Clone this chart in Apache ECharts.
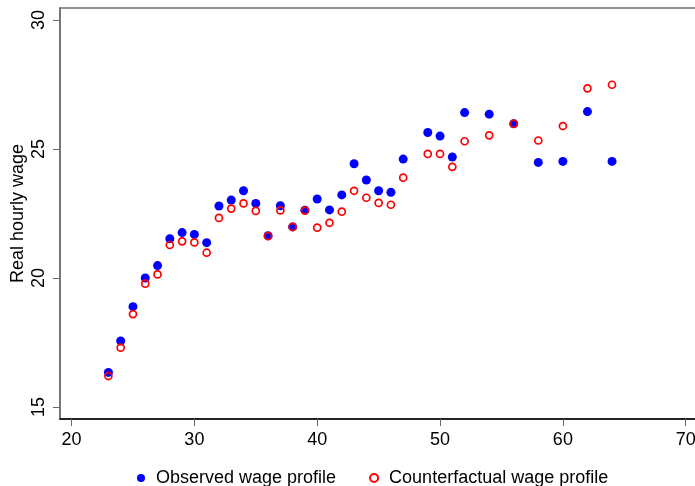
<!DOCTYPE html>
<html>
<head>
<meta charset="utf-8">
<script src="https://cdn.jsdelivr.net/npm/echarts@6/dist/echarts.min.js"></script>
<style>
  html, body { margin: 0; padding: 0; background: #fff; }
  #chart { width: 695px; height: 486px; }
</style>
</head>
<body>
<div id="chart"></div>
<script>
// Age of worker
var ages = [23, 24, 25, 26, 27, 28, 29, 30, 31, 32, 33, 34, 35, 36, 37, 38, 39, 40,
            41, 42, 43, 44, 45, 46, 47, 49, 50, 51, 52, 54, 56, 58, 60, 62, 64];
// Observed real hourly wage by age
var observed = [16.34, 17.56, 18.89, 20.00, 20.48, 21.52, 21.76, 21.69, 21.37, 22.79,
                23.02, 23.38, 22.89, 21.64, 22.80, 21.98, 22.63, 23.06, 22.64, 23.22,
                24.43, 23.80, 23.38, 23.32, 24.61, 25.64, 25.50, 24.69, 26.41, 26.35,
                25.98, 24.48, 24.52, 26.45, 24.52];
// Counterfactual real hourly wage by age
var counterfactual = [16.20, 17.30, 18.60, 19.78, 20.14, 21.28, 21.42, 21.38, 20.98, 22.33,
                      22.69, 22.89, 22.60, 21.62, 22.62, 21.98, 22.61, 21.95, 22.14, 22.57,
                      23.38, 23.11, 22.91, 22.84, 23.89, 24.81, 24.81, 24.31, 25.30, 25.53,
                      25.98, 25.33, 25.89, 27.35, 27.49];
// Axis tick labels
var xTicks = [20, 30, 40, 50, 60, 70];
var yTicks = [15, 20, 25, 30];

function pairs(xs, ys) {
  return xs.map(function (x, i) { return [x, ys[i]]; });
}

var FONT = '"Liberation Sans", Arial, sans-serif';
var chart = echarts.init(document.getElementById('chart'), null, { renderer: 'canvas' });

chart.setOption({
  backgroundColor: '#ffffff',
  animation: false,
  grid: {
    left: 60, top: 8, right: -3, bottom: 67,
    outerBoundsMode: 'none',
    containLabel: false,
    show: true, borderColor: '#6e6e6e', borderWidth: 1.5, backgroundColor: 'transparent'
  },
  xAxis: {
    type: 'value',
    min: 19.06, max: 71.0,
    splitLine: { show: false },
    axisLine: { show: true, onZero: false, lineStyle: { color: '#000', width: 1.5 } },
    axisTick: { show: true, length: 7, customValues: xTicks, lineStyle: { color: '#666' } },
    axisLabel: {
      customValues: xTicks, margin: 12,
      color: '#000', fontSize: 18, fontFamily: FONT
    }
  },
  yAxis: {
    type: 'value',
    min: 14.535, max: 30.465,
    name: 'Real hourly wage',
    nameLocation: 'middle',
    nameGap: 33,
    nameMoveOverlap: false,
    nameTextStyle: { color: '#000', fontSize: 18, fontFamily: FONT },
    splitLine: { show: false },
    axisLine: { show: true, onZero: false, lineStyle: { color: '#6e6e6e', width: 1.5 } },
    axisTick: { show: true, length: 7, customValues: yTicks, lineStyle: { color: '#666' } },
    axisLabel: {
      customValues: yTicks, rotate: 90, margin: 12,
      color: '#000', fontSize: 18, fontFamily: FONT
    }
  },
  legend: {
    left: 132, top: 464,
    itemWidth: 8, itemHeight: 8, itemGap: 33,
    textStyle: { color: '#000', fontSize: 18, fontFamily: FONT, padding: [0, 0, 0, 6] },
    data: ['Observed wage profile', 'Counterfactual wage profile']
  },
  series: [
    {
      name: 'Observed wage profile',
      type: 'scatter',
      symbol: 'circle',
      symbolSize: 9,
      itemStyle: { color: '#0000ff', opacity: 1 },
      data: pairs(ages, observed)
    },
    {
      name: 'Counterfactual wage profile',
      type: 'scatter',
      symbol: 'circle',
      symbolSize: 7,
      itemStyle: { color: 'rgba(255,255,255,0)', borderColor: '#ff0000', borderWidth: 1.7, opacity: 1 },
      data: pairs(ages, counterfactual)
    }
  ]
});
</script>
</body>
</html>
